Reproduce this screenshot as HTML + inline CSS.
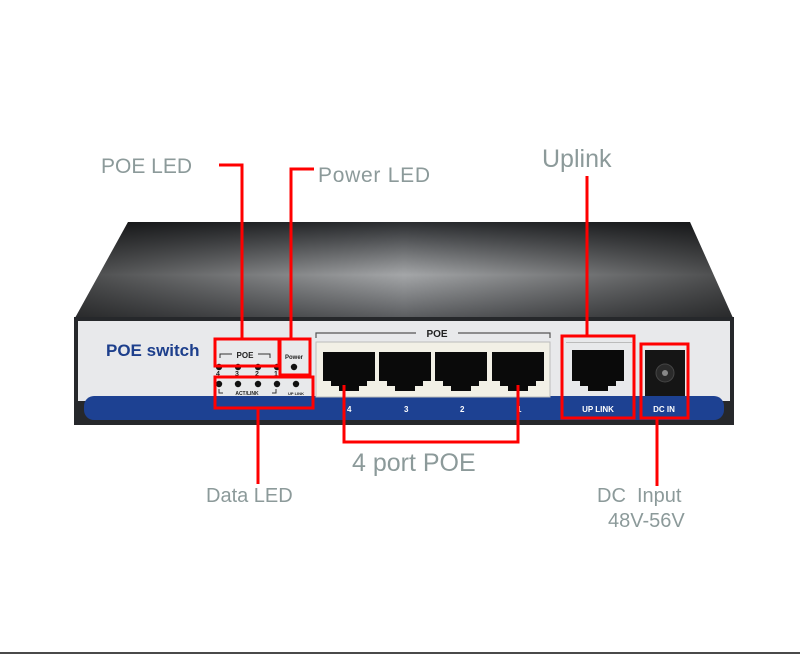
<!DOCTYPE html>
<html><head><meta charset="utf-8"><style>
html,body{margin:0;padding:0;background:#fff;width:800px;height:654px;overflow:hidden}
svg{display:block}
.l{font-family:"Liberation Sans","DejaVu Sans",sans-serif;fill:#8c9a9a}
.w{font-family:"Liberation Sans",sans-serif;fill:#fff;font-weight:bold}
.k{font-family:"Liberation Sans",sans-serif;fill:#222;font-weight:bold}
</style></head><body>
<svg width="800" height="654" viewBox="0 0 800 654" xmlns="http://www.w3.org/2000/svg">
<defs>
<linearGradient id="top" x1="0" y1="0" x2="0" y2="1">
<stop offset="0" stop-color="#2b2d30"/><stop offset="0.55" stop-color="#a4a6a8"/><stop offset="1" stop-color="#5a5c5f"/>
</linearGradient>
<linearGradient id="toph" x1="0" y1="0" x2="1" y2="0">
<stop offset="0" stop-color="#000" stop-opacity="0.55"/><stop offset="0.5" stop-color="#000" stop-opacity="0"/><stop offset="1" stop-color="#000" stop-opacity="0.55"/>
</linearGradient>
</defs>
<polygon points="128,222 690,222 733,318 75,318" fill="url(#top)"/>
<polygon points="128,222 690,222 733,318 75,318" fill="url(#toph)"/>
<rect x="74" y="317" width="660" height="108" fill="#26282b"/>
<rect x="78" y="321" width="652" height="80" fill="#e8e9eb"/>
<rect x="84" y="396" width="640" height="24" rx="10" fill="#1d4192"/>
<text x="106" y="356" font-family="Liberation Sans,sans-serif" font-weight="bold" font-size="17" fill="#1d3f8c">POE switch</text>
<path d="M220,358 v-4 h12 M258,354 h12 v4" stroke="#333" fill="none"/>
<text x="245" y="358" class="k" font-size="8" text-anchor="middle">POE</text>
<text x="294" y="359" class="k" font-size="6" text-anchor="middle">Power</text>
<g fill="#111">
<circle cx="219" cy="367" r="3.2"/><circle cx="238" cy="367" r="3.2"/><circle cx="258" cy="367" r="3.2"/><circle cx="277" cy="367" r="3.2"/><circle cx="294" cy="367" r="3.2"/>
<circle cx="219" cy="384" r="3.2"/><circle cx="238" cy="384" r="3.2"/><circle cx="258" cy="384" r="3.2"/><circle cx="277" cy="384" r="3.2"/><circle cx="296" cy="384" r="3.2"/>
</g>
<g class="k" font-size="7"><text x="216" y="376">4</text><text x="235" y="376">3</text><text x="255" y="376">2</text><text x="274" y="376">1</text></g>
<text x="247" y="395" class="k" font-size="5" text-anchor="middle">ACT/LINK</text>
<text x="296" y="395" class="k" font-size="4" text-anchor="middle">UP LINK</text>
<path d="M219,389 v4 h4 M276,389 v4 h-4" stroke="#333" fill="none"/>
<path d="M316,338 v-5 h100 M458,333 h92 v5" stroke="#555" fill="none" stroke-width="1.2"/>
<text x="437" y="337" class="k" font-size="10" text-anchor="middle">POE</text>
<rect x="316" y="342" width="234" height="55" fill="#f2f0e6" stroke="#bbb"/>
<g fill="#0a0a0a">
<path d="M323,352 h52 v29 h-8 v5 h-8 v5 h-20 v-5 h-8 v-5 h-8z"/>
<path d="M379,352 h52 v29 h-8 v5 h-8 v5 h-20 v-5 h-8 v-5 h-8z"/>
<path d="M435,352 h52 v29 h-8 v5 h-8 v5 h-20 v-5 h-8 v-5 h-8z"/>
<path d="M492,352 h52 v29 h-8 v5 h-8 v5 h-20 v-5 h-8 v-5 h-8z"/>
<path d="M572,350 h52 v31 h-8 v5 h-8 v5 h-20 v-5 h-8 v-5 h-8z"/>
</g>
<rect x="566" y="342" width="66" height="1" fill="#bbb"/>
<rect x="645" y="350" width="40" height="46" fill="#151515"/>
<circle cx="665" cy="373" r="9" fill="#2a2a2a" stroke="#444"/>
<circle cx="665" cy="373" r="3" fill="#888"/>
<g class="w" font-size="8"><text x="347" y="412">4</text><text x="404" y="412">3</text><text x="460" y="412">2</text><text x="517" y="412">1</text>
<text x="598" y="412" text-anchor="middle">UP LINK</text><text x="664" y="412" text-anchor="middle">DC IN</text></g>
<g stroke="#f00" stroke-width="3" fill="none">
<rect x="215" y="339" width="64" height="27"/>
<rect x="280" y="339" width="30" height="36"/>
<rect x="215" y="377" width="98" height="31"/>
<rect x="562" y="336" width="72" height="82"/>
<rect x="641" y="344" width="47" height="74"/>
<polyline points="219,165 242,165 242,339"/>
<polyline points="314,169 291,169 291,339"/>
<line x1="587" y1="176" x2="587" y2="336"/>
<line x1="258" y1="408" x2="258" y2="484"/>
<polyline points="344,385 344,442 518,442 518,385"/>
<line x1="657" y1="418" x2="657" y2="486"/>
</g>
<g class="l">
<text x="101" y="173" font-size="21">POE  LED</text>
<text x="318" y="182" font-size="21" textLength="112">Power  LED</text>
<text x="542" y="167" font-size="25">Uplink</text>
<text x="352" y="471" font-size="25">4 port POE</text>
<text x="206" y="502" font-size="20">Data LED</text>
<text x="597" y="502" font-size="20" xml:space="preserve">DC  Input</text>
<text x="608" y="527" font-size="20">48V-56V</text>
</g>
<rect x="0" y="652" width="800" height="2" fill="#4a4a4a"/>
</svg>
</body></html>
